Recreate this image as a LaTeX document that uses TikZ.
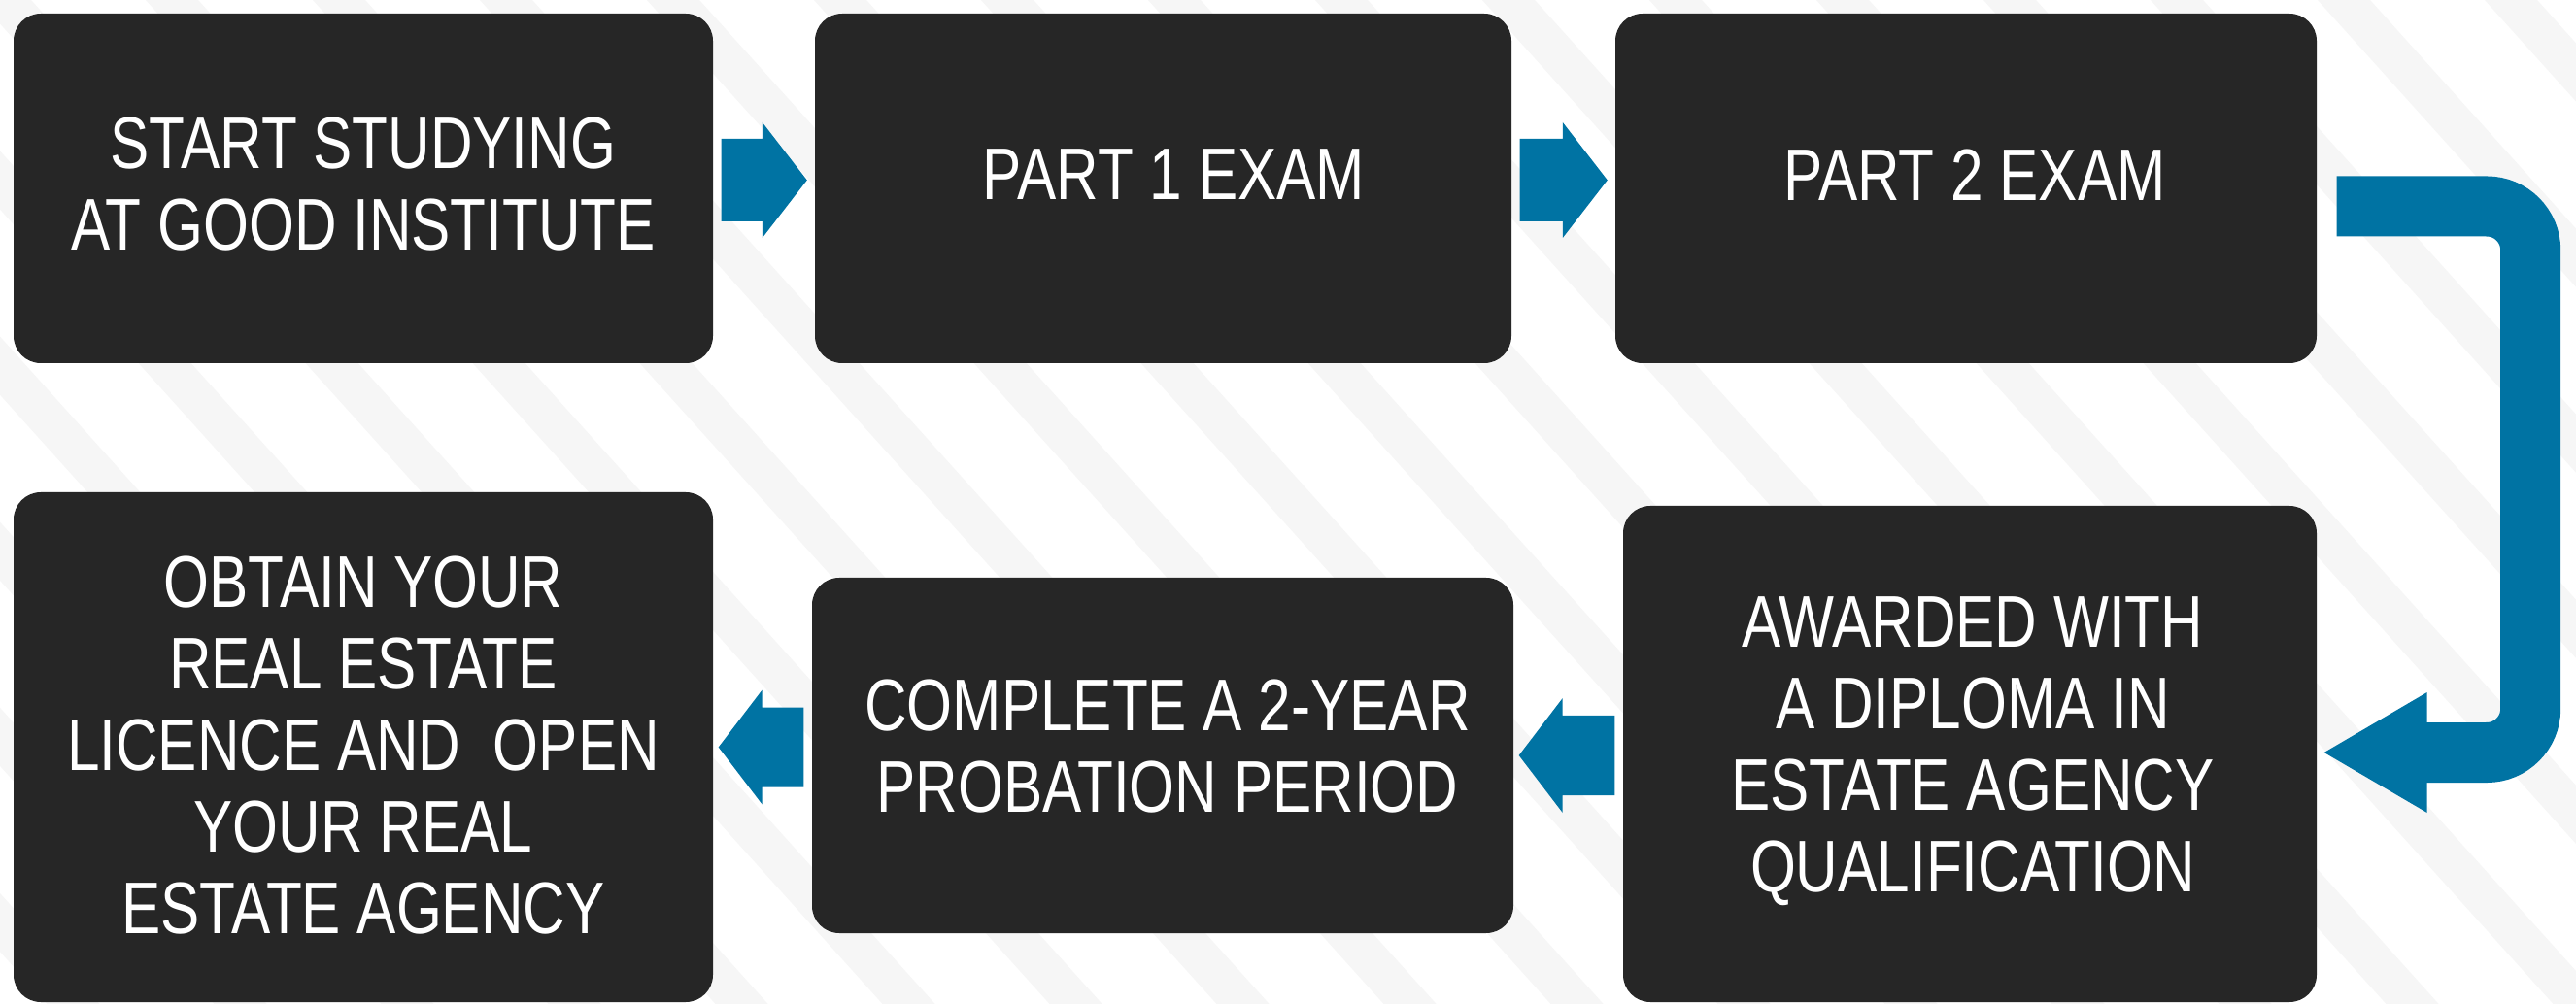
\documentclass[tikz,border=0pt]{standalone}
\usepackage{fontspec}
\setmainfont[FakeStretch=0.80]{Liberation Sans}
\usetikzlibrary{calc}
\definecolor{boxc}{RGB}{38,38,38}
\definecolor{arrowc}{RGB}{0,115,163}
\definecolor{stripec}{RGB}{246,246,246}
\tikzset{
  stepbox/.style={rectangle, fill=boxc, rounded corners=0.28cm, inner sep=0pt},
  steptext/.style={text=white, align=center, inner sep=0pt,
    font=\fontsize{21.45pt}{23.9pt}\selectfont},
  fatarrow/.style={fill=arrowc},
  ubar/.style={draw=arrowc, line width=0.62cm, rounded corners=0.45cm}
}
% right-pointing block arrow from #1 to #2, vertical shift #3
\newcommand\myrarrow[3]{%
  \fill[fatarrow] let \p1=(#1.east), \p2=(#2.west) in
   (\x1+0.08cm,\y1+#3+0.425cm) -- (\x2-0.535cm,\y1+#3+0.425cm)
   -- (\x2-0.535cm,\y1+#3+0.595cm) -- (\x2-0.075cm,\y1+#3)
   -- (\x2-0.535cm,\y1+#3-0.595cm) -- (\x2-0.535cm,\y1+#3-0.425cm)
   -- (\x1+0.08cm,\y1+#3-0.425cm) -- cycle;}
% left-pointing block arrow from #1 (right box) to #2 (left box)
\newcommand\mylarrow[2]{%
  \fill[fatarrow] let \p1=(#1.west), \p2=(#2.east) in
   (\x1-0.08cm,\y2+0.41cm) -- (\x2+0.50cm,\y2+0.41cm)
   -- (\x2+0.50cm,\y2+0.59cm) -- (\x2+0.05cm,\y2)
   -- (\x2+0.50cm,\y2-0.59cm) -- (\x2+0.50cm,\y2-0.41cm)
   -- (\x1-0.08cm,\y2-0.41cm) -- cycle;}
\begin{document}
\begin{tikzpicture}
\useasboundingbox (0,0) rectangle (26.52,-10.34);
\fill[white] (0,0) rectangle (26.52,-10.34);
\begin{scope}
  \clip (0,0) rectangle (26.52,-10.34);
  \foreach \k in {-7,...,15} {
    \pgfmathsetmacro\ca{(150+172*\k)/100}
    \fill[stripec] (\ca,0) -- ++(0.54,0) -- ++(9.306,-10.34) -- ++(-0.54,0) -- cycle;
  }
\end{scope}

% boxes
\node[stepbox, minimum width=7.20cm, minimum height=3.60cm] (b1) at (3.74,-1.94) {};
\node[stepbox, minimum width=7.17cm, minimum height=3.60cm] (b2) at (11.975,-1.94) {};
\node[stepbox, minimum width=7.22cm, minimum height=3.60cm] (b3) at (20.24,-1.94) {};
\node[stepbox, minimum width=7.20cm, minimum height=5.25cm] (b4) at (3.74,-7.695) {};
\node[stepbox, minimum width=7.22cm, minimum height=3.66cm] (b5) at (11.97,-7.78) {};
\node[stepbox, minimum width=7.14cm, minimum height=5.11cm] (b6) at (20.28,-7.765) {};

% texts
\node[steptext] (t1) at ([yshift=0.04cm]b1.center) {START STUDYING\\AT GOOD INSTITUTE};
\node[steptext] (t2) at ([xshift=0.11cm,yshift=0.14cm]b2.center) {PART 1 EXAM};
\node[steptext] (t3) at ([xshift=0.09cm,yshift=0.14cm]b3.center) {PART 2 EXAM};
\node[steptext] (t4) at ([yshift=0.015cm]b4.center)
  {OBTAIN YOUR\\REAL ESTATE\\LICENCE AND\ \ OPEN\\YOUR REAL\\ESTATE AGENCY};
\node[steptext] (t5) at ([xshift=0.05cm,yshift=0.095cm]b5.center)
  {COMPLETE A 2-YEAR\\PROBATION PERIOD};
\node[steptext] (t6) at ([xshift=0.03cm,yshift=0.025cm]b6.center)
  {AWARDED WITH\\A DIPLOMA IN\\ESTATE AGENCY\\QUALIFICATION};

% connectors
\myrarrow{b1}{b2}{0.085cm}
\myrarrow{b2}{b3}{0.085cm}
\mylarrow{b6}{b5}
\mylarrow{b5}{b4}

\coordinate (ut) at ([xshift=0.2cm,yshift=-0.185cm]b3.east);
\coordinate (tip6) at ([xshift=0.07cm,yshift=0.015cm]b6.east);
\coordinate (uc) at ($(ut)+(1.995,0)$);
\draw[ubar] (ut) -- (uc) -- (uc |- tip6) -- ([xshift=0.98cm]tip6);
\fill[fatarrow] (tip6) -- ([xshift=1.06cm,yshift=0.62cm]tip6)
  -- ([xshift=1.06cm,yshift=-0.62cm]tip6) -- cycle;
\end{tikzpicture}
\end{document}
